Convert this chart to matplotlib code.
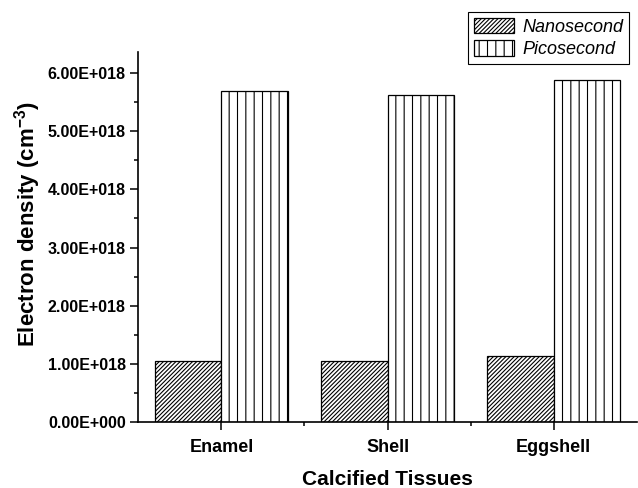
import numpy as np
import matplotlib
matplotlib.use("Agg")
import matplotlib.pyplot as plt
from matplotlib.ticker import MultipleLocator, FixedLocator

plt.rcParams['font.family'] = ['Liberation Sans', 'DejaVu Sans']
plt.rcParams['mathtext.fontset'] = 'custom'
plt.rcParams['mathtext.rm'] = 'Liberation Sans'
plt.rcParams['mathtext.bf'] = 'Liberation Sans:bold'
plt.rcParams['hatch.linewidth'] = 0.8

# Electron density per tissue (units of 1e18 cm^-3)
tissues = ["Enamel", "Shell", "Eggshell"]
nanosecond = [1.05, 1.06, 1.13]
picosecond = [5.68, 5.61, 5.88]
ytick_vals = [0, 1, 2, 3, 4, 5, 6]
ytick_labels = ["0.00E+000", "1.00E+018", "2.00E+018", "3.00E+018",
                "4.00E+018", "5.00E+018", "6.00E+018"]

fig = plt.figure(figsize=(6.38, 4.88), dpi=100)
ax = fig.add_axes([0.2168, 0.1346, 0.7812, 0.7594])

x = np.arange(1, len(tissues) + 1)
w = 0.4
b1 = ax.bar(x - w / 2, nanosecond, w, facecolor='white', edgecolor='black',
            linewidth=0.9, hatch='////////', label='Nanosecond')
b2 = ax.bar(x + w / 2, picosecond, w, facecolor='white', edgecolor='black',
            linewidth=0.9, hatch='||', label='Picosecond')

ax.set_xlim(0.5, 3.5)
ax.set_ylim(0, 6.36)

ax.set_xticks(x)
ax.set_xticklabels(tissues, fontsize=13, fontweight='bold')
ax.xaxis.set_minor_locator(FixedLocator([1.5, 2.5]))
ax.set_yticks(ytick_vals)
ax.set_yticklabels(ytick_labels, fontsize=11.5, fontweight='bold')
ax.yaxis.set_minor_locator(MultipleLocator(0.5))

ax.tick_params(which='major', direction='out', length=6, width=1.1)
ax.tick_params(which='minor', direction='out', length=3, width=1.1)
ax.tick_params(axis='x', pad=6)
ax.tick_params(axis='y', pad=3)

for side in ['top', 'right']:
    ax.spines[side].set_visible(False)
for side in ['left', 'bottom']:
    ax.spines[side].set_linewidth(1.2)

ax.set_xlabel('Calcified Tissues', fontsize=15, fontweight='bold', labelpad=10)
ax.set_ylabel(r'Electron density (cm$^{\mathregular{-3}}$)', fontsize=16,
              fontweight='bold')
ax.yaxis.set_label_coords(-0.192, 0.535)

leg = fig.legend(handles=[b1, b2], loc='upper right',
                 bbox_to_anchor=(0.986, 0.975),
                 prop={'style': 'italic', 'size': 13},
                 fancybox=False, edgecolor='black', framealpha=1,
                 handlelength=2.2, handleheight=0.95, handletextpad=0.5,
                 labelspacing=0.25, borderpad=0.3, borderaxespad=0)
leg.get_frame().set_linewidth(0.8)

fig.savefig('out.png', dpi=100)
